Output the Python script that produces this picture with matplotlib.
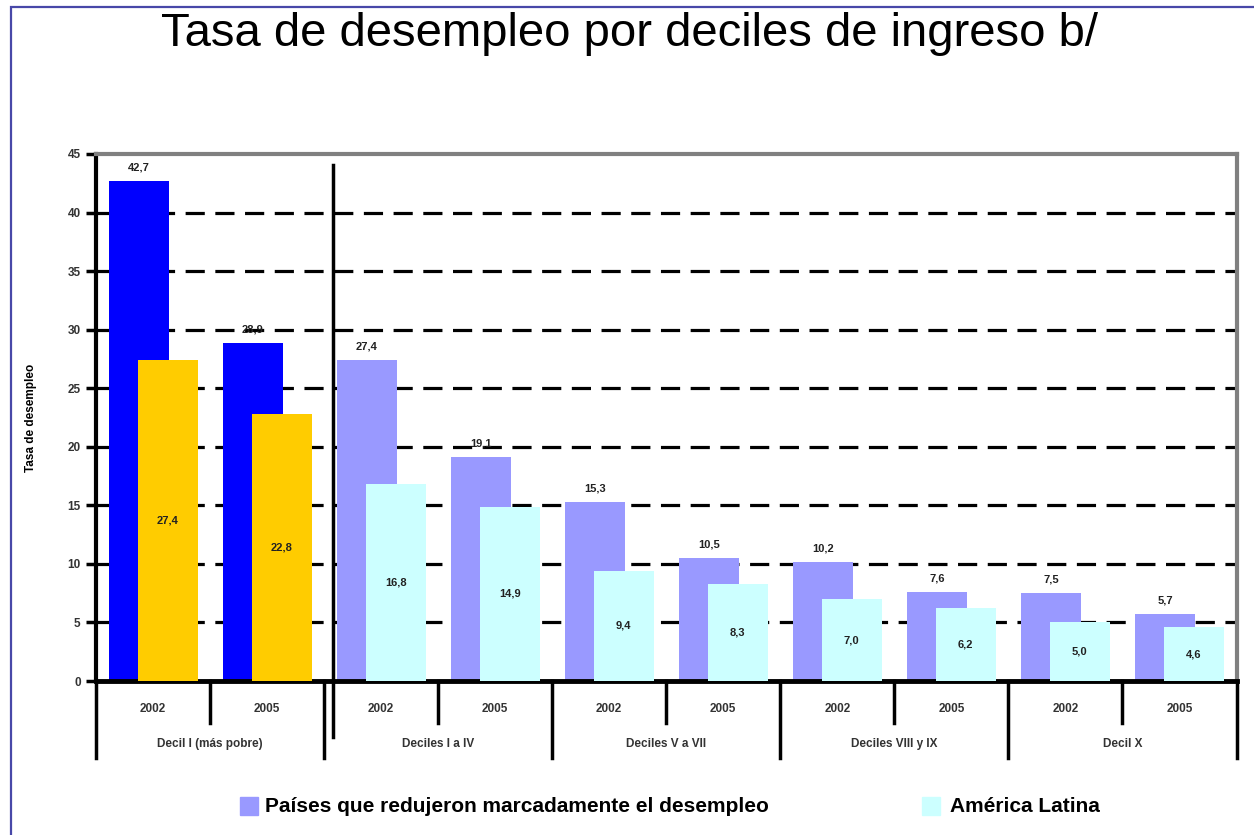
import numpy as np
import matplotlib
matplotlib.use("Agg")
import matplotlib.pyplot as plt
from matplotlib.patches import Rectangle

plt.rcParams['font.family'] = ['Liberation Sans', 'DejaVu Sans']

# Data
years = ["2002", "2005"] * 5
groups = ["Decil I (más pobre)", "Deciles I a IV", "Deciles V a VII",
          "Deciles VIII y IX", "Decil X"]
reduced = [42.7, 28.9, 27.4, 19.1, 15.3, 10.5, 10.2, 7.6, 7.5, 5.7]
latam = [27.4, 22.8, 16.8, 14.9, 9.4, 8.3, 7.0, 6.2, 5.0, 4.6]
label_reduced = "Países que redujeron marcadamente el desempleo"
label_latam = "América Latina"

# colours: first group (decil I) highlighted
col_a = ["#0000ff"] * 2 + ["#9999ff"] * 8
col_b = ["#ffcc00"] * 2 + ["#ccffff"] * 8

fig = plt.figure(figsize=(12.54, 8.35), dpi=100)
ax = fig.add_axes([96 / 1254, 1 - 681 / 835, (1236.5 - 96) / 1254, (681 - 154) / 835])

x = np.arange(len(reduced))
w = 0.526
off = 0.127

# dashed grid
for yv in range(5, 45, 5):
    ax.axhline(yv, color="black", lw=2.3, linestyle=(0, (6, 3.3)), zorder=0)

ax.bar(x - off, reduced, width=w, color=col_a, zorder=2)
ax.bar(x + off, latam, width=w, color=col_b, zorder=3)

for xi, v in zip(x, reduced):
    ax.annotate(f"{v:.1f}".replace(".", ","), (xi - off, v), xytext=(0, 6),
                textcoords="offset points", ha="center", va="bottom",
                fontsize=8, fontweight="bold", color="#222222")
for xi, v in zip(x, latam):
    ax.text(xi + off, v / 2, f"{v:.1f}".replace(".", ","), ha="center", va="center",
            fontsize=8, fontweight="bold", color="#222222", zorder=4)

ax.set_xlim(-0.5, 9.5)
ax.set_ylim(0, 45)
ax.set_yticks(range(0, 50, 5))
ax.set_xticks([])
ax.tick_params(axis="y", direction="out", length=7, width=2.5, labelsize=8.5, pad=4)
for t in ax.get_yticklabels():
    t.set_fontweight("bold")
    t.set_color("#333333")

ax.spines["left"].set_linewidth(3)
ax.spines["bottom"].set_linewidth(3.5)
ax.spines["top"].set_color("#808080")
ax.spines["right"].set_color("#808080")
ax.spines["top"].set_linewidth(3)
ax.spines["right"].set_linewidth(3)

ax.set_ylabel("Tasa de desempleo", fontsize=8.5, fontweight="bold", labelpad=22)

# separator between the two panels
ax.plot([1.575, 1.575], [44.1, -4.8], color="black", lw=2.5, clip_on=False, zorder=5)

# category table under the axis
for k in range(11):
    depth = -6.6 if k % 2 == 0 else -3.6
    ax.plot([k - 0.5, k - 0.5], [0, depth], color="black", lw=2.5, clip_on=False)
for xi, yr in zip(x, years):
    ax.text(xi, -2.4, yr, ha="center", va="center", fontsize=8.5,
            fontweight="bold", color="#333333")
for gi, g in enumerate(groups):
    ax.text(2 * gi + 0.5, -5.4, g, ha="center", va="center", fontsize=8.5,
            fontweight="bold", color="#333333")

# title
fig.text(0.502, 1 - 34 / 835, "Tasa de desempleo por deciles de ingreso b/",
         ha="center", va="center", fontsize=34)

# legend
fig.add_artist(Rectangle((240 / 1254, 1 - 815 / 835), 18 / 1254, 18 / 835,
                         transform=fig.transFigure, color="#9999ff"))
fig.text(265 / 1254, 1 - 806 / 835, label_reduced, ha="left", va="center",
         fontsize=15, fontweight="bold")
fig.add_artist(Rectangle((922 / 1254, 1 - 815 / 835), 18 / 1254, 18 / 835,
                         transform=fig.transFigure, color="#ccffff"))
fig.text(950 / 1254, 1 - 806 / 835, label_latam, ha="left", va="center",
         fontsize=15, fontweight="bold")

# outer frame
fig.add_artist(Rectangle((11 / 1254, -0.2), 1.2, 1.2 - 7 / 835,
                         transform=fig.transFigure, fill=False,
                         edgecolor="#4848a8", lw=1.6))

fig.savefig("out.png", dpi=100)
